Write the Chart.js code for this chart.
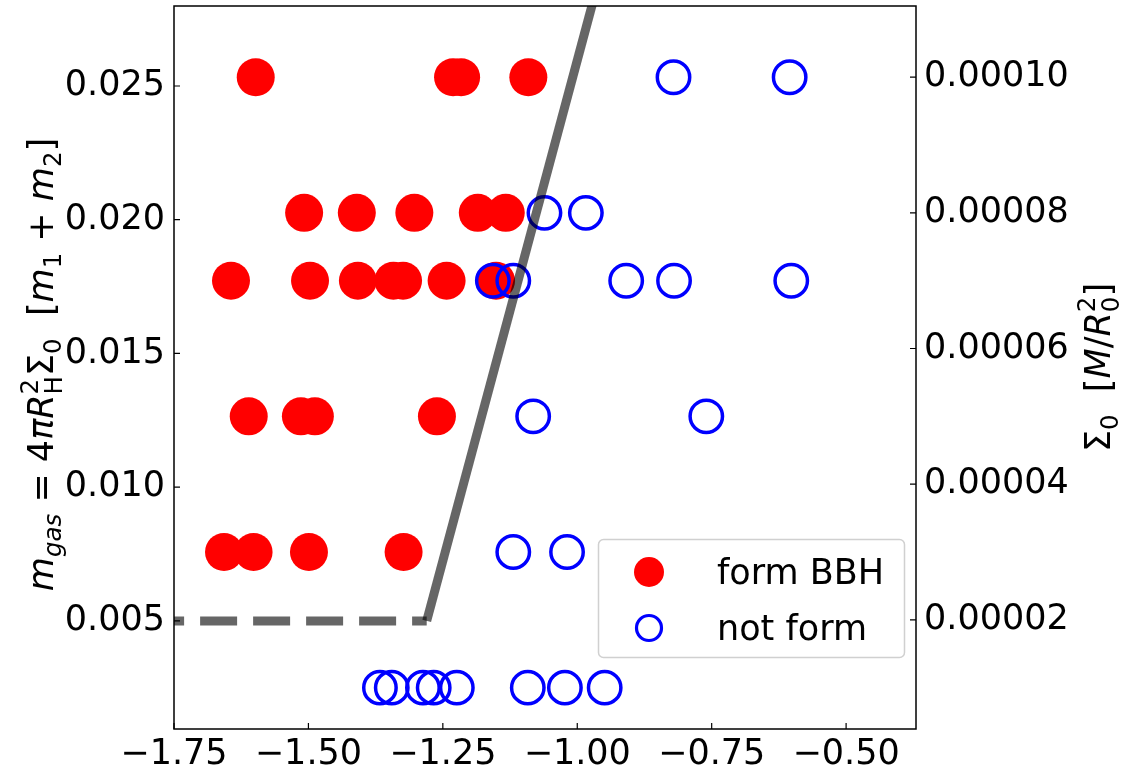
<!DOCTYPE html>
<html>
<head>
<meta charset="utf-8">
<script src="https://cdn.jsdelivr.net/npm/chart.js@4.4.1/dist/chart.umd.min.js"></script>
<style>
  html, body { margin: 0; padding: 0; background: #fff; }
</style>
</head>
<body>
<canvas id="chart" width="1124" height="767"></canvas>
<script>
// runs that formed a binary (x, Sigma_0 on the right axis)
const formX = [
  -1.598, -1.231, -1.216, -1.091,
  -1.508, -1.410, -1.303, -1.185, -1.133,
  -1.644, -1.497, -1.408, -1.342, -1.324, -1.243, -1.151,
  -1.611, -1.514, -1.488, -1.261,
  -1.657, -1.602, -1.499, -1.323
];
const formSigma = [
  0.00010, 0.00010, 0.00010, 0.00010,
  0.00008, 0.00008, 0.00008, 0.00008, 0.00008,
  0.00007, 0.00007, 0.00007, 0.00007, 0.00007, 0.00007, 0.00007,
  0.00005, 0.00005, 0.00005, 0.00005,
  0.00003, 0.00003, 0.00003, 0.00003
];

// runs that did not form one
const notX = [
  -0.821, -0.605,
  -1.061, -0.984,
  -1.157, -1.119, -0.909, -0.820, -0.602,
  -1.082, -0.760,
  -1.119, -1.019,
  -1.367, -1.345, -1.287, -1.267, -1.224, -1.092, -1.023, -0.949
];
const notSigma = [
  0.00010, 0.00010,
  0.00008, 0.00008,
  0.00007, 0.00007, 0.00007, 0.00007, 0.00007,
  0.00005, 0.00005,
  0.00003, 0.00003,
  0.00001, 0.00001, 0.00001, 0.00001, 0.00001, 0.00001, 0.00001, 0.00001
];

// boundary, in m_gas units (left axis)
const floorX = [-1.80, -1.280];
const floorY = [0.005, 0.005];
const edgeX = [-1.280, -0.946];
const edgeY = [0.005, 0.030];

const xTicks = [-1.75, -1.50, -1.25, -1.00, -0.75, -0.50];
const mgasTicks = [0.005, 0.010, 0.015, 0.020, 0.025];
const sigmaTicks = [0.00002, 0.00004, 0.00006, 0.00008, 0.00010];

const FONT = 'DejaVu Sans';
const FS = 35;

const toPoints = (xs, ys) => xs.map((x, i) => ({ x: x, y: ys[i] }));

const leftTitle = [
  { t: 'm', it: true }, { t: 'gas', it: true, sub: true }, { t: ' = 4' }, { t: 'π', it: true },
  { t: 'R', it: true }, { t: '2', sup: true, under: 'H' }, { t: 'Σ' }, { t: '0', sub: true },
  { t: '  [' }, { t: 'm', it: true }, { t: '1', sub: true }, { t: ' + ' },
  { t: 'm', it: true }, { t: '2', sub: true }, { t: ']' }
];
const rightTitle = [
  { t: 'Σ' }, { t: '0', sub: true }, { t: '  [' }, { t: 'M', it: true }, { t: '/' },
  { t: 'R', it: true }, { t: '2', sup: true, under: '0' }, { t: ']' }
];

function partFont(it, small) {
  return (it ? 'italic ' : '') + (small ? FS * 0.7 : FS) + 'px "' + FONT + '"';
}

// rotated label with sub/superscripts, baseline at x, centred on y
function drawRich(ctx, parts, x, y) {
  ctx.save();
  ctx.translate(x, y);
  ctx.rotate(-Math.PI / 2);
  ctx.textBaseline = 'alphabetic';
  ctx.textAlign = 'left';
  ctx.fillStyle = '#000';
  const widths = parts.map(p => {
    ctx.font = partFont(p.it, p.sub || p.sup);
    let w = ctx.measureText(p.t).width;
    if (p.under) {
      ctx.font = partFont(false, true);
      w = Math.max(w, ctx.measureText(p.under).width);
    }
    return w;
  });
  let pos = -widths.reduce((s, w) => s + w, 0) / 2;
  parts.forEach((p, i) => {
    ctx.font = partFont(p.it, p.sub || p.sup);
    const dy = p.sub ? FS * 0.22 : p.sup ? -FS * 0.42 : 0;
    ctx.fillText(p.t, pos, dy);
    if (p.under) {
      ctx.font = partFont(false, true);
      ctx.fillText(p.under, pos, FS * 0.25);
    }
    pos += widths[i];
  });
  ctx.restore();
}

const framePlugin = {
  id: 'frame',
  afterDatasetsDraw(chart) {
    const { ctx, chartArea: a, scales } = chart;
    ctx.save();
    ctx.strokeStyle = '#000';
    ctx.lineWidth = 1.5;
    ctx.strokeRect(a.left, a.top, a.right - a.left, a.bottom - a.top);
    ctx.lineWidth = 1.2;
    ctx.beginPath();
    scales.x.ticks.forEach(t => {
      const px = scales.x.getPixelForValue(t.value);
      ctx.moveTo(px, a.bottom);
      ctx.lineTo(px, a.bottom - 6);
    });
    scales.y.ticks.forEach(t => {
      const py = scales.y.getPixelForValue(t.value);
      ctx.moveTo(a.left, py);
      ctx.lineTo(a.left + 6, py);
    });
    scales.y1.ticks.forEach(t => {
      const py = scales.y1.getPixelForValue(t.value);
      ctx.moveTo(a.right, py);
      ctx.lineTo(a.right - 6, py);
    });
    ctx.stroke();
    ctx.restore();
  },
  afterDraw(chart) {
    const a = chart.chartArea;
    const mid = (a.top + a.bottom) / 2;
    drawRich(chart.ctx, leftTitle, 53, mid - 3);
    drawRich(chart.ctx, rightTitle, 1110, mid);
  }
};

// legend box in the lower right of the axes
const legendPlugin = {
  id: 'boxLegend',
  afterDraw(chart) {
    const { ctx, chartArea: a } = chart;
    const items = chart.data.datasets.filter(d => d.inLegend);
    const w = 306, h = 118;
    const left = a.right - 12 - w, top = a.bottom - 72 - h;
    ctx.save();
    ctx.beginPath();
    ctx.roundRect(left + 0.5, top + 0.5, w, h, 5);
    ctx.fillStyle = 'rgba(255,255,255,0.8)';
    ctx.fill();
    ctx.strokeStyle = '#d0d0d0';
    ctx.lineWidth = 1.5;
    ctx.stroke();
    items.forEach((d, i) => {
      const cy = top + 33 + i * 56;
      const cx = left + 51;
      ctx.beginPath();
      if (d.pointBorderWidth > 0) {
        ctx.arc(cx, cy, 12.5, 0, Math.PI * 2);
        ctx.strokeStyle = d.pointBorderColor;
        ctx.lineWidth = 3.2;
        ctx.stroke();
      } else {
        ctx.arc(cx, cy, 15, 0, Math.PI * 2);
        ctx.fillStyle = d.pointBackgroundColor;
        ctx.fill();
      }
      ctx.fillStyle = '#000';
      ctx.font = FS + 'px "' + FONT + '"';
      ctx.textBaseline = 'alphabetic';
      ctx.textAlign = 'left';
      ctx.fillText(d.label, left + 119, cy + 12);
    });
    ctx.restore();
  }
};

const tickFont = { family: FONT, size: FS };

// keep the plot box exactly where the reference has it
const fixWidth = w => s => { s.width = w; s.paddingTop = 0; s.paddingBottom = 0; };
const fixHeight = h => s => { s.height = h; s.paddingLeft = 0; s.paddingRight = 0; };

new Chart(document.getElementById('chart'), {
  type: 'scatter',
  data: {
    datasets: [
      {
        label: 'boundary floor',
        data: toPoints(floorX, floorY),
        yAxisID: 'y',
        showLine: true,
        borderColor: 'rgba(0,0,0,0.6)',
        borderWidth: 9,
        borderDash: [37, 16],
        borderCapStyle: 'butt',
        pointRadius: 0,
        pointHoverRadius: 0,
        clip: 0,
        order: 1
      },
      {
        label: 'boundary edge',
        data: toPoints(edgeX, edgeY),
        yAxisID: 'y',
        showLine: true,
        borderColor: 'rgba(0,0,0,0.6)',
        borderWidth: 9,
        borderCapStyle: 'butt',
        pointRadius: 0,
        pointHoverRadius: 0,
        clip: 0,
        order: 1
      },
      {
        label: 'form BBH',
        inLegend: true,
        data: toPoints(formX, formSigma),
        yAxisID: 'y1',
        pointBackgroundColor: '#ff0000',
        pointBorderColor: '#ff0000',
        pointBorderWidth: 0,
        pointRadius: 19,
        pointHoverRadius: 19,
        order: 3
      },
      {
        label: 'not form',
        inLegend: true,
        data: toPoints(notX, notSigma),
        yAxisID: 'y1',
        pointBackgroundColor: 'rgba(0,0,0,0)',
        pointBorderColor: '#0000ff',
        pointBorderWidth: 3.5,
        pointRadius: 16.2,
        pointHoverRadius: 16.2,
        order: 2
      }
    ]
  },
  options: {
    responsive: false,
    animation: false,
    events: [],
    layout: { autoPadding: false, padding: { top: 6, left: 0, right: 0, bottom: 0 } },
    plugins: {
      legend: { display: false },
      tooltip: { enabled: false }
    },
    scales: {
      x: {
        type: 'linear',
        min: -1.75,
        max: -0.370,
        grid: { display: false, drawTicks: false },
        border: { display: false },
        afterBuildTicks: s => { s.ticks = xTicks.map(v => ({ value: v })); },
        afterFit: fixHeight(38),
        ticks: {
          font: tickFont,
          color: '#000',
          padding: 5,
          autoSkip: false,
          maxRotation: 0,
          callback: v => (v < 0 ? '\u2212' : '') + Math.abs(v).toFixed(2)
        }
      },
      y: {
        type: 'linear',
        position: 'left',
        min: 0.00096,
        max: 0.02799,
        grid: { display: false, drawTicks: false },
        border: { display: false },
        afterBuildTicks: s => { s.ticks = mgasTicks.map(v => ({ value: v })); },
        afterFit: fixWidth(174),
        ticks: {
          font: tickFont,
          color: '#000',
          padding: 9,
          callback: v => v.toFixed(3)
        }
      },
      y1: {
        type: 'linear',
        position: 'right',
        min: 0.0000039,
        max: 0.0001105,
        grid: { display: false, drawTicks: false },
        border: { display: false },
        afterBuildTicks: s => { s.ticks = sigmaTicks.map(v => ({ value: v })); },
        afterFit: fixWidth(208),
        ticks: {
          font: tickFont,
          color: '#000',
          padding: 8,
          callback: v => v.toFixed(5)
        }
      }
    }
  },
  plugins: [framePlugin, legendPlugin]
});
</script>
</body>
</html>
